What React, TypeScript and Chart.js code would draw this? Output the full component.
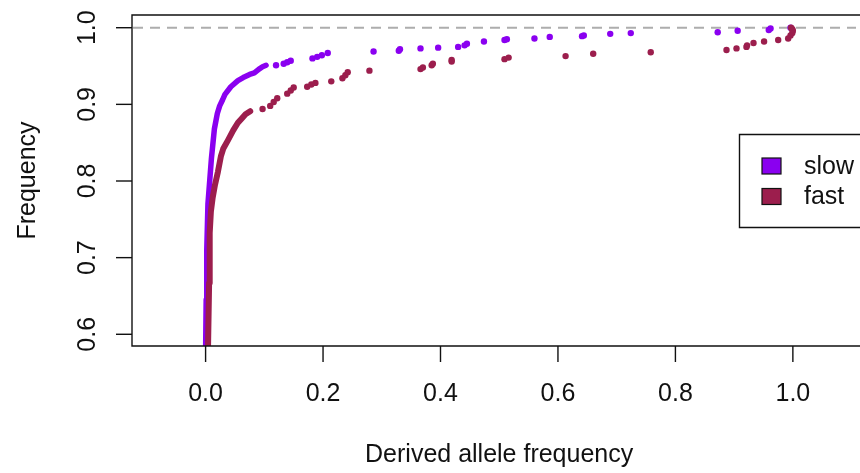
import React, { useEffect, useRef } from "react";
import { Chart, registerables } from "chart.js";

Chart.register(...registerables);

// ---- Data ----
const xTicks = [0, 0.2, 0.4, 0.6, 0.8, 1.0];
const xTickLabels = ["0.0", "0.2", "0.4", "0.6", "0.8", "1.0"];
const yTicks = [0.6, 0.7, 0.8, 0.9, 1.0];
const yTickLabels = ["0.6", "0.7", "0.8", "0.9", "1.0"];
const seriesNames = ["slow", "fast"];
const seriesColors = ["#8A00F0", "#9C1E4D"];
const xTitle = "Derived allele frequency";
const yTitle = "Frequency";
const refLineY = 1.0;

// slow: dense (overlapping) run of points near zero, then sparse points
const slowDenseX = [0.0, 0.001, 0.002, 0.004, 0.007, 0.01, 0.015, 0.02, 0.024, 0.029, 0.033, 0.043, 0.055, 0.064, 0.075, 0.083, 0.091, 0.097, 0.103];
const slowDenseY = [0.575, 0.645, 0.71, 0.77, 0.8, 0.83, 0.868, 0.888, 0.898, 0.906, 0.913, 0.923, 0.931, 0.935, 0.939, 0.941, 0.946, 0.949, 0.951];
const slowDotsX = [0.12, 0.133, 0.139, 0.145, 0.182, 0.19, 0.198, 0.208, 0.286, 0.329, 0.331, 0.366, 0.396, 0.43, 0.441, 0.445, 0.474, 0.509, 0.513, 0.56, 0.586, 0.641, 0.644, 0.689, 0.724, 0.872, 0.906, 0.959, 0.962, 0.996];
const slowDotsY = [0.951, 0.953, 0.955, 0.957, 0.96, 0.962, 0.964, 0.967, 0.969, 0.97, 0.972, 0.973, 0.974, 0.975, 0.977, 0.979, 0.982, 0.984, 0.985, 0.986, 0.988, 0.989, 0.99, 0.992, 0.993, 0.994, 0.996, 0.997, 0.999, 1.0];

// fast
const fastDenseX = [0.004, 0.006, 0.007, 0.009, 0.012, 0.016, 0.021, 0.026, 0.03, 0.038, 0.047, 0.055, 0.062, 0.068, 0.076];
const fastDenseY = [0.575, 0.667, 0.732, 0.76, 0.778, 0.795, 0.812, 0.832, 0.842, 0.853, 0.866, 0.876, 0.882, 0.887, 0.891];
const fastDotsX = [0.097, 0.11, 0.116, 0.122, 0.139, 0.145, 0.15, 0.173, 0.18, 0.187, 0.214, 0.233, 0.238, 0.242, 0.279, 0.366, 0.37, 0.385, 0.387, 0.419, 0.419, 0.509, 0.516, 0.613, 0.66, 0.758, 0.887, 0.904, 0.921, 0.922, 0.933, 0.951, 0.975, 0.992, 0.996, 0.999, 1.0, 0.999, 0.997];
const fastDotsY = [0.894, 0.898, 0.903, 0.908, 0.914, 0.918, 0.922, 0.923, 0.926, 0.928, 0.93, 0.934, 0.938, 0.942, 0.944, 0.946, 0.948, 0.951, 0.953, 0.956, 0.958, 0.959, 0.961, 0.963, 0.966, 0.968, 0.971, 0.973, 0.975, 0.977, 0.98, 0.982, 0.984, 0.986, 0.99, 0.993, 0.996, 0.998, 1.0];

const X_MIN = -0.1253;
const X_MAX = 1.1075;
const Y_MIN = 0.5847;
const Y_MAX = 1.0166;

const FONT = "'Liberation Sans', Arial, Helvetica, sans-serif";

const zip = (xs: number[], ys: number[]) => xs.map((x, i) => ({ x, y: ys[i] }));

const axesPlugin = {
  id: "rAxes",
  beforeDatasetsDraw(chart: any) {
    const { ctx, chartArea } = chart;
    const y = chart.scales.y.getPixelForValue(refLineY);
    ctx.save();
    ctx.strokeStyle = "#ADADAD";
    ctx.lineWidth = 2;
    ctx.setLineDash([10, 7]);
    ctx.beginPath();
    ctx.moveTo(chartArea.left + 1, y);
    ctx.lineTo(chartArea.right, y);
    ctx.stroke();
    ctx.restore();
  },
  afterDraw(chart: any) {
    const { ctx, chartArea } = chart;
    const xs = chart.scales.x;
    const ys = chart.scales.y;
    const { left, top, right, bottom } = chartArea;
    ctx.save();
    ctx.strokeStyle = "#111";
    ctx.lineWidth = 1.4;
    ctx.setLineDash([]);
    // box (right side falls outside the picture)
    ctx.beginPath();
    ctx.moveTo(right + 5, top);
    ctx.lineTo(left, top);
    ctx.lineTo(left, bottom);
    ctx.lineTo(right + 5, bottom);
    ctx.stroke();
    // x ticks
    ctx.fillStyle = "#111";
    ctx.font = `25px ${FONT}`;
    ctx.textAlign = "center";
    ctx.textBaseline = "middle";
    xTicks.forEach((v, i) => {
      const px = xs.getPixelForValue(v);
      ctx.beginPath();
      ctx.moveTo(px, bottom);
      ctx.lineTo(px, bottom + 16);
      ctx.stroke();
      ctx.fillText(xTickLabels[i], px, bottom + 48);
    });
    // y ticks
    yTicks.forEach((v, i) => {
      const py = ys.getPixelForValue(v);
      ctx.beginPath();
      ctx.moveTo(left, py);
      ctx.lineTo(left - 16, py);
      ctx.stroke();
      ctx.save();
      ctx.translate(left - 44, py);
      ctx.rotate(-Math.PI / 2);
      ctx.fillText(yTickLabels[i], 0, 0);
      ctx.restore();
    });
    // titles
    ctx.fillText(xTitle, (left + xs.getPixelForValue(1.125)) / 2, 455);
    ctx.save();
    ctx.translate(28, (top + bottom) / 2);
    ctx.rotate(-Math.PI / 2);
    ctx.fillText(yTitle, 0, 0);
    ctx.restore();
    // legend
    ctx.lineWidth = 1.4;
    ctx.beginPath();
    ctx.moveTo(right + 5, 134.5);
    ctx.lineTo(739.5, 134.5);
    ctx.lineTo(739.5, 227.5);
    ctx.lineTo(right + 5, 227.5);
    ctx.stroke();
    const rows = [166, 196.5];
    ctx.textAlign = "left";
    seriesNames.forEach((name, i) => {
      ctx.fillStyle = seriesColors[i];
      ctx.fillRect(762, rows[i] - 8, 19, 16);
      ctx.lineWidth = 1.2;
      ctx.strokeRect(762, rows[i] - 8, 19, 16);
      ctx.fillStyle = "#111";
      ctx.fillText(name, 804, rows[i] + 1);
    });
    ctx.restore();
  },
};

export default function App() {
  const ref = useRef<HTMLCanvasElement | null>(null);
  useEffect(() => {
    if (!ref.current) return;
    const chart = new Chart(ref.current, {
      type: "scatter",
      data: {
        datasets: [
          {
            label: "fast-dense",
            data: zip(fastDenseX, fastDenseY),
            showLine: true,
            borderColor: seriesColors[1],
            backgroundColor: seriesColors[1],
            borderWidth: 6,
            borderCapStyle: "round",
            borderJoinStyle: "round",
            pointRadius: 0,
            order: 0,
          },
          {
            label: seriesNames[1],
            data: zip(fastDotsX, fastDotsY),
            backgroundColor: seriesColors[1],
            borderWidth: 0,
            pointRadius: 3.2,
            order: 0,
          },
          {
            label: "slow-dense",
            data: zip(slowDenseX, slowDenseY),
            showLine: true,
            borderColor: seriesColors[0],
            backgroundColor: seriesColors[0],
            borderWidth: 5.5,
            borderCapStyle: "round",
            borderJoinStyle: "round",
            pointRadius: 0,
            order: 1,
          },
          {
            label: seriesNames[0],
            data: zip(slowDotsX, slowDotsY),
            backgroundColor: seriesColors[0],
            borderWidth: 0,
            pointRadius: 3.2,
            order: 1,
          },
        ],
      } as any,
      options: {
        animation: false,
        responsive: false,
        devicePixelRatio: 1,
        layout: { padding: { left: 132, top: 15, right: 0, bottom: 127 } },
        scales: {
          x: { type: "linear", min: X_MIN, max: X_MAX, display: false },
          y: { type: "linear", min: Y_MIN, max: Y_MAX, display: false },
        },
        plugins: { legend: { display: false }, tooltip: { enabled: false } },
        events: [],
      } as any,
      plugins: [axesPlugin],
    });
    return () => chart.destroy();
  }, []);
  return (
    <div style={{ position: "fixed", left: 0, top: 0, width: 860, height: 473, background: "#fff", overflow: "hidden" }}>
      <canvas ref={ref} width={860} height={473} style={{ width: 860, height: 473, display: "block" }} />
    </div>
  );
}
